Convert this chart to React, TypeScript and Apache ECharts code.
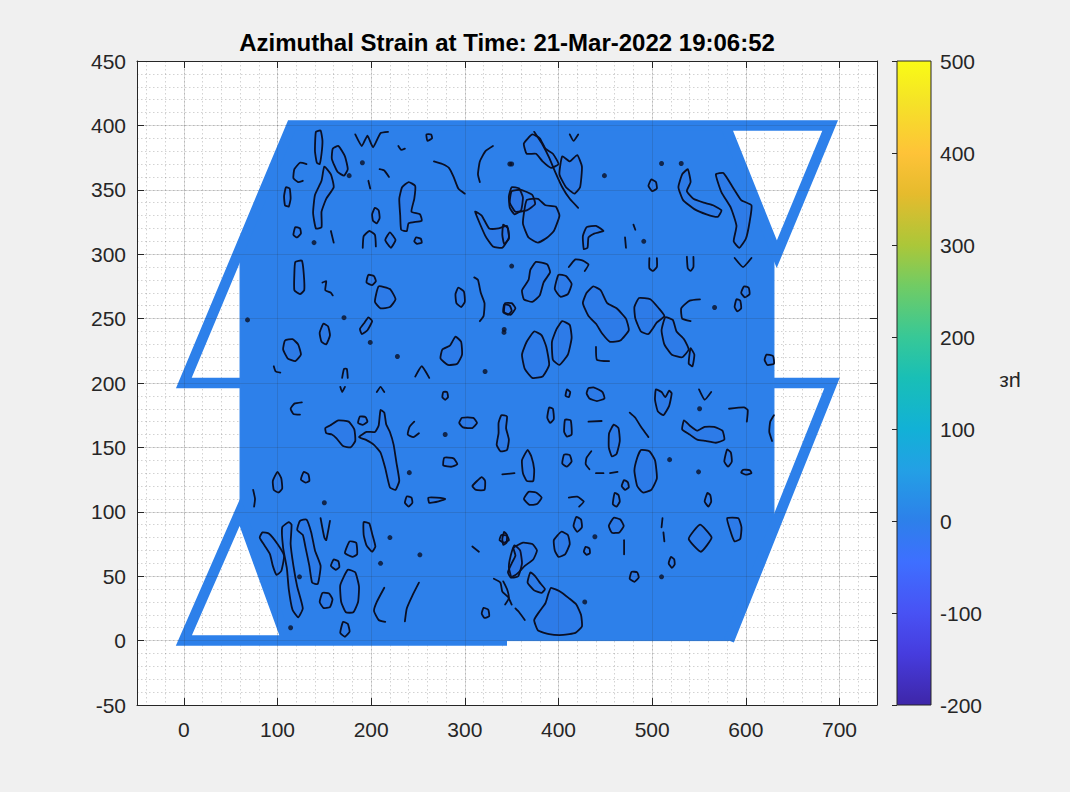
import React, { useEffect, useRef } from "react";
import * as echarts from "echarts";

// ---- chart text ----
const TITLE = "Azimuthal Strain at Time: 21-Mar-2022 19:06:52";
const CB_LABEL = "με";

// ---- axis ranges ----
const X_MIN = -50;
const X_MAX = 740;
const Y_MIN = -50;
const Y_MAX = 450;
const CB_MIN = -200;
const CB_MAX = 500;
const CB_STEP = 100;

// strain level of the filled region (με)
const BODY_VALUE = 0;

// filled strain field outline (x, y)
const bodyOutline: number[][] = [
  [110, 0], [582, 0], [630, 88], [630, 300], [578, 400], [115, 400], [60, 304], [60, 100],
];

// fibre path drawn as thick strokes
const framePaths: number[][][] = [
  [[345, 0], [0, 0], [60, 100], [110, 0]],
  [[60, 200], [0, 200], [115, 400], [690, 400], [633, 300], [578, 400]],
  [[630, 200], [692, 200], [582, 0]],
];

// closed iso-strain contours
const contourLoops: number[][][] = [
  [[141,395],[146,396],[148,388],[147,378],[145,370],[142,371],[140,380]],
  [[159,382],[165,384],[172,376],[175,366],[171,361],[164,364],[158,374]],
  [[150,368],[157,362],[160,352],[152,343],[147,333],[147,321],[141,320],[138,332],[140,346],[147,357]],
  [[109,352],[113,351],[114,343],[112,337],[108,338],[107,345]],
  [[204,336],[208,334],[209,328],[206,324],[202,326],[201,331]],
  [[119,321],[124,320],[125,316],[121,313],[117,315]],
  [[220,317],[226,311],[221,305],[215,311]],
  [[248,313],[253,312],[254,309],[249,308],[246,310]],
  [[233,352],[240,356],[247,353],[246,343],[243,333],[252,331],[254,326],[240,324],[238,318],[232,319],[231,330],[230,343]],
  [[350,352],[358,351],[362,344],[360,334],[353,331],[348,336],[347,345]],
  [[311,333],[318,330],[326,320],[336,320],[345,322],[347,313],[340,305],[330,306],[322,314]],
  [[259,393],[264,393],[265,390],[260,388]],
  [[119,294],[126,295],[128,285],[128.5,272],[124,269],[118,272],[118,285]],
  [[197,284],[203,283],[205,279],[201,276],[195,278]],
  [[208,275],[220,273],[226,265],[220,259],[210,258],[204,263]],
  [[197,251],[201,248],[196,241],[190,238],[188,242],[193,247]],
  [[149,246],[154,244],[156,237],[152,230],[147,232],[145,239]],
  [[108,233],[116,234],[122,230],[125,222],[119,217],[111,219],[106,226]],
  [[290,236],[296,232],[297,222],[292,215],[282,214],[274,219],[276,226],[284,229]],
  [[293,274],[299,271],[300,263],[296,259],[291,262],[290,269]],
  [[343,262],[350,262],[354,258],[349,253],[342,255]],
  [[363,386],[372,393],[380,390],[386,382],[394,378],[400,370],[392,367],[383,372],[376,378],[366,378]],
  [[404,376],[412,372],[420,377],[425,368],[423,352],[417,347],[408,352],[401,362]],
  [[350,349],[360,350],[372,346],[375,339],[366,334],[354,333],[348,340]],
  [[366,342],[378,343],[386,338],[397,337],[401,330],[395,318],[388,313],[378,309],[368,313],[362,324]],
  [[341,323],[346,320],[347,312],[342,308],[340,315]],
  [[427,304],[426,314],[430,321],[440,322],[448,318],[438,316],[432,313],[431,305]],
  [[499,358],[504,356],[505,351],[500,349],[496,353]],
  [[532,362],[538,366],[541,356],[537,349],[544,343],[555,340],[565,338],[574,334],[570,329],[558,331],[545,335],[533,342],[528,352]],
  [[568,362],[576,363],[586,352],[595,342],[606,338],[604,325],[600,312],[593,305],[587,310],[590,322],[584,336],[574,348]],
  [[376,294],[388,292],[391,286],[384,278],[380,268],[372,263],[363,265],[361,272],[368,280],[370,288]],
  [[400,284],[408,283],[414,277],[410,269],[402,267],[396,273]],
  [[437,275],[445,272],[452,262],[462,258],[472,250],[475,241],[466,233],[455,232],[447,238],[440,246],[432,252],[426,262],[430,270]],
  [[486,266],[498,265],[507,258],[513,252],[505,247],[496,238],[488,240],[482,250],[481,259]],
  [[514,251],[522,249],[526,240],[534,234],[539,226],[532,220],[521,222],[513,230],[510,241]],
  [[541,227],[545,222],[543,213],[539,215]],
  [[404,248],[412,245],[414,235],[410,222],[401,214],[394,218],[393,232],[398,242]],
  [[374,240],[382,237],[387,228],[390,214],[383,205],[372,204],[364,211],[361,222],[366,232]],
  [[342,261],[348,260],[350,256],[346,253],[341,255]],
  [[590,265],[594,264],[595,258],[591,255.6],[588,259]],
  [[598,275],[603,274],[604,269],[599,266.5],[595,270]],
  [[622,222],[629,221],[630,215],[623,214],[620,218]],
  [[277,193],[281,193],[282,189],[279,187],[276,189]],
  [[165,171],[176,170],[182,164],[183,155],[178,150],[170,151],[163,157],[158,160],[152,161],[151,165],[156,167]],
  [[188,174],[194,173.5],[196,170],[191,167.5],[186,169]],
  [[210,179],[214,177],[216,168],[220,162],[224,152],[227,138],[230,124],[226,117],[220,119],[215,134],[210,146],[203,152],[194,156],[187,158],[195,162],[204,162],[208,167]],
  [[297,173],[309,173],[313,169],[308,165],[298,165.5],[294,169]],
  [[339,175],[345,174],[344,165],[347,156],[345,148],[338,147],[334,152],[336,161],[336,169]],
  [[278,142],[288,141.5],[292,137],[286,135],[277,136]],
  [[318,127],[321.6,124],[321,117],[312,117],[308,120]],
  [[100,131],[104,126],[105,118],[101,115],[96,117],[95,124]],
  [[128,131],[133,129],[134,124],[130,122.6],[125,125]],
  [[238,112],[243,111],[244,107],[240,104],[236,107]],
  [[261,111],[270,111],[279,110],[272,108],[262,107]],
  [[84,84],[91,83],[100,75],[107,66],[104,54],[99,51],[95,58],[92,67],[86,74],[81,80]],
  [[112,92],[115,90],[114,75],[117,58],[121,42],[127,25],[122,18],[116,24],[112,40],[110,56],[106,72],[105,88]],
  [[124,93],[131,94],[136,84],[140,70],[146,58],[143,44],[137,45],[134,58],[130,72],[127,82],[121,86]],
  [[177,77],[184,76],[185,67],[180,65],[172,68]],
  [[160,63],[165,61.5],[166,57],[162,55],[157,58]],
  [[175,55],[183,53],[187,42],[186,30],[181,22],[173,22],[168,30],[167,43]],
  [[148,37],[155,36.5],[158.7,32],[156,26],[149,25.4],[145,30]],
  [[170,14.5],[175,13],[177,7],[172,3],[167,6]],
  [[192,92],[198,91],[201,83],[204.5,73],[201,69],[195,74],[192,82]],
  [[320,25.4],[325,24],[326,19],[321,17.6],[318,21]],
  [[339,82],[345,81.5],[347,78],[342,76],[337,78]],
  [[353,74],[359,70],[361,60],[357,50],[350,49],[347,57],[349,66]],
  [[409,195],[412.5,193],[411,189],[407.5,190]],
  [[432,196],[438,196.5],[447,193],[449,188],[441,186],[433,188],[430,192]],
  [[390,181],[394,180],[395,172],[391,169],[388,173]],
  [[407,171.5],[413,171],[414,160],[409,158.4],[406,162]],
  [[459,167.7],[464,165],[465.4,155],[462,145],[457,143],[453.7,150],[454,161]],
  [[504,195],[510,193],[514,189],[518,194],[520.8,192],[518,182],[512,175],[506,178],[503,187]],
  [[534,171],[540,167],[548,163],[556,166],[566,166],[575,163],[577,156],[568,153.6],[557,155],[548,156],[540,160],[532,164]],
  [[488,148],[497,147],[503,140],[505,126],[499,117],[490,115],[484,120],[481,132],[484,142]],
  [[406,144.5],[412,144],[414,139],[409,135],[404,137.5]],
  [[367,148],[371,143],[374,133],[373,124],[366,124],[362,130],[361,140]],
  [[580,148.4],[584,146],[585,139],[581,135],[577,139]],
  [[597,132.6],[604,132.4],[606,130],[600,128.8],[595,130.5]],
  [[470,124.6],[474,123],[475,119],[471,117],[467.5,120]],
  [[368,115.5],[376,115],[382,111],[377,106],[369,105.4],[363,110]],
  [[460,114.7],[464,113],[465.4,108],[462,104],[458,106]],
  [[559,114.7],[562,113],[563,108],[560,104],[556,108]],
  [[342,84.5],[345,82],[344.5,76],[341,74.4],[340,79]],
  [[419,96],[424,94],[425,88],[420,84.5],[416,89]],
  [[459,95.4],[466,94],[469.6,89],[465,84],[457,83.7],[453.7,89]],
  [[403,84.5],[410,82],[412,75],[407,67],[400,65],[396,70],[395,78]],
  [[429,72.8],[433,71.5],[433.5,68],[430,66.6],[427,69]],
  [[551,90],[563.4,80],[552,69],[539,79]],
  [[580,95],[584,84],[588,77],[594,79],[595.3,88],[592,95]],
  [[520,65],[523.5,63],[524,59],[521,56.5],[517.6,60]],
  [[478,53.4],[484,53],[485.6,49],[481,45.6],[476,48]],
  [[352,72],[362,76],[372,75],[377,70],[373,63],[364,58],[356,52],[349,49],[346,53],[350,60],[354,66]],
  [[370,53],[375,50],[380,45],[385.5,40],[382,37],[374,39],[367,45]],
  [[392,41],[402,38],[411,33],[419,28],[424,20],[425,11],[418,6],[405,4.4],[390,5],[378,8],[374,16],[380,23],[386,29],[389,36]],
];

// open contour fragments
const contourStrokes: number[][][] = [
  [[183,393],[190,384],[196,392],[202,383],[210,394],[218,395]],
  [[131,370],[124,371],[118,366],[117,359],[122,356],[127,357]],
  [[157,318],[160,309]],
  [[191,305],[192,314],[198,318],[204,315],[205,306]],
  [[267,372],[276,370],[283,367],[288,360],[293,351],[300,347]],
  [[330,384],[322,380],[316,372],[314,362],[316,356]],
  [[229,384],[232,381],[236,382]],
  [[197,357],[199,351]],
  [[209,366],[214,365],[219,360]],
  [[148,278],[152,279],[151,272],[157,270],[159,268]],
  [[96,213],[98,209],[103,208]],
  [[169,204],[171,211],[174,211],[175,204]],
  [[247,205],[254,213],[262,204]],
  [[310,282],[314,280],[317,270],[321,262],[320,252],[316,248]],
  [[374,395],[383,385],[390,375],[397,363],[404,352],[412,343],[421,336]],
  [[412,393],[416,388],[421,393]],
  [[471,313],[472,305]],
  [[480,323],[482,319]],
  [[497,297],[497,289],[501,287],[505,290],[505,297]],
  [[537,298],[538,289],[541,287],[544,290],[544,298]],
  [[411,290],[418,296],[426,295],[432,292],[428,287]],
  [[551,265],[540,264],[531,258],[532,250],[541,248]],
  [[440,228],[441,218],[454,217]],
  [[588,297],[597,290],[606,297]],
  [[167,197],[169,193],[172,197]],
  [[206,193],[210,197],[214,193]],
  [[126,185],[118,184],[114,180],[117,176],[124,175.5]],
  [[246,170],[241,166],[239,160],[245,158],[251,161]],
  [[74,117],[76,110],[75,104]],
  [[146,95],[150,80],[152,78],[156,93]],
  [[214,41],[206,30],[203,23],[208,16],[215,14.5]],
  [[251,45],[244,35],[238,25],[236,15]],
  [[331,48],[338,45],[340,38],[346,34],[350,28]],
  [[308,73],[315,69]],
  [[550,195],[556,187],[563,193]],
  [[582,180],[598,181],[602,179],[601,170]],
  [[630,175],[626,170],[625,162],[628,155]],
  [[476,177],[482,173],[488,166],[494,160],[496,158]],
  [[432,170],[446,170.5]],
  [[435,147],[430,142],[429,137],[433,133]],
  [[340,129],[353,130]],
  [[440,130],[448,130]],
  [[455,130],[463,131]],
  [[411,111],[420,111.7],[427,108],[422,104]],
  [[470,78],[470,67]],
  [[511,95],[510,88]],
  [[512,84],[513,77]],
  [[341,46],[345,40],[347,33],[343,28]],
  [[354,25],[358,22],[364,16]],
];

// tiny closed contours (spots)
const contourDots: number[][] = [
  [176.5,361],[139,309],[350,370],[190.6,371],[68,249],[171,250.7],[199,231.5],[228,220.6],
  [321.6,208.9],[341.8,239.3],[350,290.8],[348,370],[449,361],[491,310],[510,370.4],[531,370.4],
  [342,241.6],[566.6,258.6],[279,160],[240.7,130.4],[150,107],[123.5,49.5],[114,10],[220,80],
  [252,66.6],[210,60],[550.6,180],[518.6,140.5],[549.5,131],[438.8,80.6],[510,49.5],[428,30],
];

// parula colour map stops
const parulaStops: [number, string][] = [
  [0.0, "#3e26a8"], [0.079, "#463cde"], [0.143, "#4852f4"], [0.222, "#3e6fff"],
  [0.286, "#2d80ea"], [0.365, "#23a0e5"], [0.429, "#12b1d6"], [0.508, "#19bfb6"],
  [0.571, "#37c897"], [0.651, "#71cc64"], [0.714, "#abc739"], [0.794, "#e6bb2d"],
  [0.857, "#fec338"], [0.937, "#f5e327"], [1.0, "#f9fb15"],
];

const FONT = "'Liberation Sans', Arial, Helvetica, sans-serif";
const INK = "#262626";
const CONTOUR = "#0a0f24";

function hexToRgb(h: string) {
  const n = parseInt(h.slice(1), 16);
  return [(n >> 16) & 255, (n >> 8) & 255, n & 255];
}

function colorAt(v: number) {
  const t = Math.min(1, Math.max(0, (v - CB_MIN) / (CB_MAX - CB_MIN)));
  for (let i = 1; i < parulaStops.length; i++) {
    const [o1, c1] = parulaStops[i];
    const [o0, c0] = parulaStops[i - 1];
    if (t <= o1) {
      const f = (t - o0) / (o1 - o0 || 1);
      const a = hexToRgb(c0);
      const b = hexToRgb(c1);
      const m = a.map((x, k) => Math.round(x + (b[k] - x) * f));
      return `rgb(${m[0]},${m[1]},${m[2]})`;
    }
  }
  return parulaStops[parulaStops.length - 1][1];
}

function buildOption() {
  const bodyColor = colorAt(BODY_VALUE);

  const hiddenAxisParts = {
    axisLine: { show: false },
    axisTick: { show: false },
    axisLabel: { show: false },
  };

  return {
    animation: false,
    backgroundColor: "#f0f0f0",
    grid: [
      { left: 137, right: 193, top: 61, bottom: 87, show: true, backgroundColor: "#ffffff", borderWidth: 0, outerBoundsMode: "none" },
      { left: 897, width: 34, top: 61, bottom: 87, show: false, outerBoundsMode: "none" },
    ],
    xAxis: [
      {
        type: "value", gridIndex: 0, min: X_MIN, max: X_MAX, splitNumber: 8, minInterval: 100, maxInterval: 100,
        position: "bottom", z: 5,
        axisLine: { show: true, onZero: false, lineStyle: { color: INK, width: 1 } },
        axisTick: { show: true, inside: true, length: 7, lineStyle: { color: INK } },
        axisLabel: { show: true, showMinLabel: false, showMaxLabel: false, color: INK, fontSize: 21, fontFamily: FONT, margin: 14 },
        splitLine: { show: true, lineStyle: { color: "rgba(38,38,38,0.15)", width: 1 } },
      },
      {
        type: "value", gridIndex: 0, min: X_MIN, max: X_MAX, splitNumber: 8, minInterval: 100, maxInterval: 100,
        position: "top", z: 5,
        axisLine: { show: true, onZero: false, lineStyle: { color: INK, width: 1 } },
        axisTick: { show: true, inside: true, length: 7, lineStyle: { color: INK } },
        axisLabel: { show: false },
        splitLine: { show: false },
      },
      {
        type: "value", gridIndex: 0, min: X_MIN, max: X_MAX, splitNumber: 40, minInterval: 20, maxInterval: 20,
        position: "bottom", z: 0, ...hiddenAxisParts,
        splitLine: { show: true, lineStyle: { color: "rgba(30,30,30,0.2)", width: 1, type: [1.5, 2.5] } },
      },
      {
        type: "value", gridIndex: 1, min: 0, max: 1, ...hiddenAxisParts, splitLine: { show: false },
      },
    ],
    yAxis: [
      {
        type: "value", gridIndex: 0, min: Y_MIN, max: Y_MAX, interval: 50, position: "left", z: 5,
        axisLine: { show: true, onZero: false, lineStyle: { color: INK, width: 1 } },
        axisTick: { show: true, inside: true, length: 7, lineStyle: { color: INK } },
        axisLabel: { show: true, color: INK, fontSize: 21, fontFamily: FONT, margin: 11 },
        splitLine: { show: true, lineStyle: { color: "rgba(38,38,38,0.15)", width: 1 } },
      },
      {
        type: "value", gridIndex: 0, min: Y_MIN, max: Y_MAX, interval: 50, position: "right", z: 5,
        axisLine: { show: true, onZero: false, lineStyle: { color: INK, width: 1 } },
        axisTick: { show: true, inside: true, length: 7, lineStyle: { color: INK } },
        axisLabel: { show: false },
        splitLine: { show: false },
      },
      {
        type: "value", gridIndex: 0, min: Y_MIN, max: Y_MAX, interval: 10, position: "left", z: 0, ...hiddenAxisParts,
        splitLine: { show: true, lineStyle: { color: "rgba(30,30,30,0.2)", width: 1, type: [1.5, 2.5] } },
      },
      {
        type: "value", gridIndex: 1, min: CB_MIN, max: CB_MAX, interval: CB_STEP, position: "right", z: 5,
        axisLine: { show: false },
        axisTick: { show: true, inside: true, length: 5, lineStyle: { color: INK } },
        axisLabel: { show: true, color: INK, fontSize: 21, fontFamily: FONT, margin: 9 },
        splitLine: { show: false },
      },
    ],
    graphic: [
      {
        type: "text", x: 507, y: 42, silent: true,
        style: { text: TITLE, fill: "#000000", fontSize: 24, fontWeight: "bold", fontFamily: FONT, align: "center", verticalAlign: "middle" },
      },
      {
        type: "text", x: 1010, y: 383, rotation: Math.PI, silent: true,
        style: { text: CB_LABEL, fill: INK, fontSize: 21, fontFamily: FONT, align: "center", verticalAlign: "middle" },
      },
    ],
    series: [
      {
        type: "custom", name: "field", xAxisIndex: 0, yAxisIndex: 0, z: 2, silent: true,
        data: [[bodyOutline[0][0], bodyOutline[0][1]]],
        renderItem: (_p: any, api: any) => ({
          type: "polygon",
          shape: { points: bodyOutline.map((p) => api.coord(p)) },
          style: { fill: bodyColor, stroke: bodyColor, lineWidth: 1 },
        }),
      },
      {
        type: "custom", name: "fibre", xAxisIndex: 0, yAxisIndex: 0, z: 2, silent: true,
        data: framePaths.map((p) => [p[0][0], p[0][1]]),
        renderItem: (params: any, api: any) => ({
          type: "polyline",
          shape: { points: framePaths[params.dataIndex].map((p) => api.coord(p)) },
          style: { fill: null, stroke: bodyColor, lineWidth: 10.5, lineJoin: "miter", lineCap: "butt" },
        }),
      },
      {
        type: "custom", name: "loops", xAxisIndex: 0, yAxisIndex: 0, z: 3, silent: true,
        data: contourLoops.map((p) => [p[0][0], p[0][1]]),
        renderItem: (params: any, api: any) => ({
          type: "polygon",
          shape: { points: contourLoops[params.dataIndex].map((p) => api.coord(p)), smooth: 0.15 },
          style: { fill: "rgba(45,55,205,0.06)", stroke: CONTOUR, lineWidth: 1.8, lineJoin: "round" },
        }),
      },
      {
        type: "custom", name: "strokes", xAxisIndex: 0, yAxisIndex: 0, z: 3, silent: true,
        data: contourStrokes.map((p) => [p[0][0], p[0][1]]),
        renderItem: (params: any, api: any) => ({
          type: "polyline",
          shape: { points: contourStrokes[params.dataIndex].map((p) => api.coord(p)), smooth: 0.15 },
          style: { fill: null, stroke: CONTOUR, lineWidth: 1.8, lineJoin: "round", lineCap: "round" },
        }),
      },
      {
        type: "scatter", name: "spots", xAxisIndex: 0, yAxisIndex: 0, z: 3, silent: true,
        symbol: "circle", symbolSize: 5, data: contourDots,
        itemStyle: { color: CONTOUR },
      },
      {
        type: "custom", name: "colorbar", xAxisIndex: 3, yAxisIndex: 3, z: 2, silent: true,
        data: [[0, CB_MIN, 1, CB_MAX]],
        renderItem: (_p: any, api: any) => {
          const p0 = api.coord([0, CB_MIN]);
          const p1 = api.coord([1, CB_MAX]);
          return {
            type: "rect",
            shape: { x: p0[0], y: p1[1], width: p1[0] - p0[0], height: p0[1] - p1[1] },
            style: {
              fill: new echarts.graphic.LinearGradient(0, 1, 0, 0,
                parulaStops.map(([offset, color]) => ({ offset, color }))),
              stroke: INK,
              lineWidth: 1,
            },
          };
        },
      },
    ],
  };
}

export default function App() {
  const ref = useRef<HTMLDivElement>(null);
  useEffect(() => {
    if (!ref.current) return;
    const chart = echarts.init(ref.current, null, { renderer: "svg" });
    chart.setOption(buildOption() as any);
    return () => chart.dispose();
  }, []);
  return (
    <div
      ref={ref}
      style={{ position: "fixed", left: 0, top: 0, width: 1070, height: 792 }}
    />
  );
}
